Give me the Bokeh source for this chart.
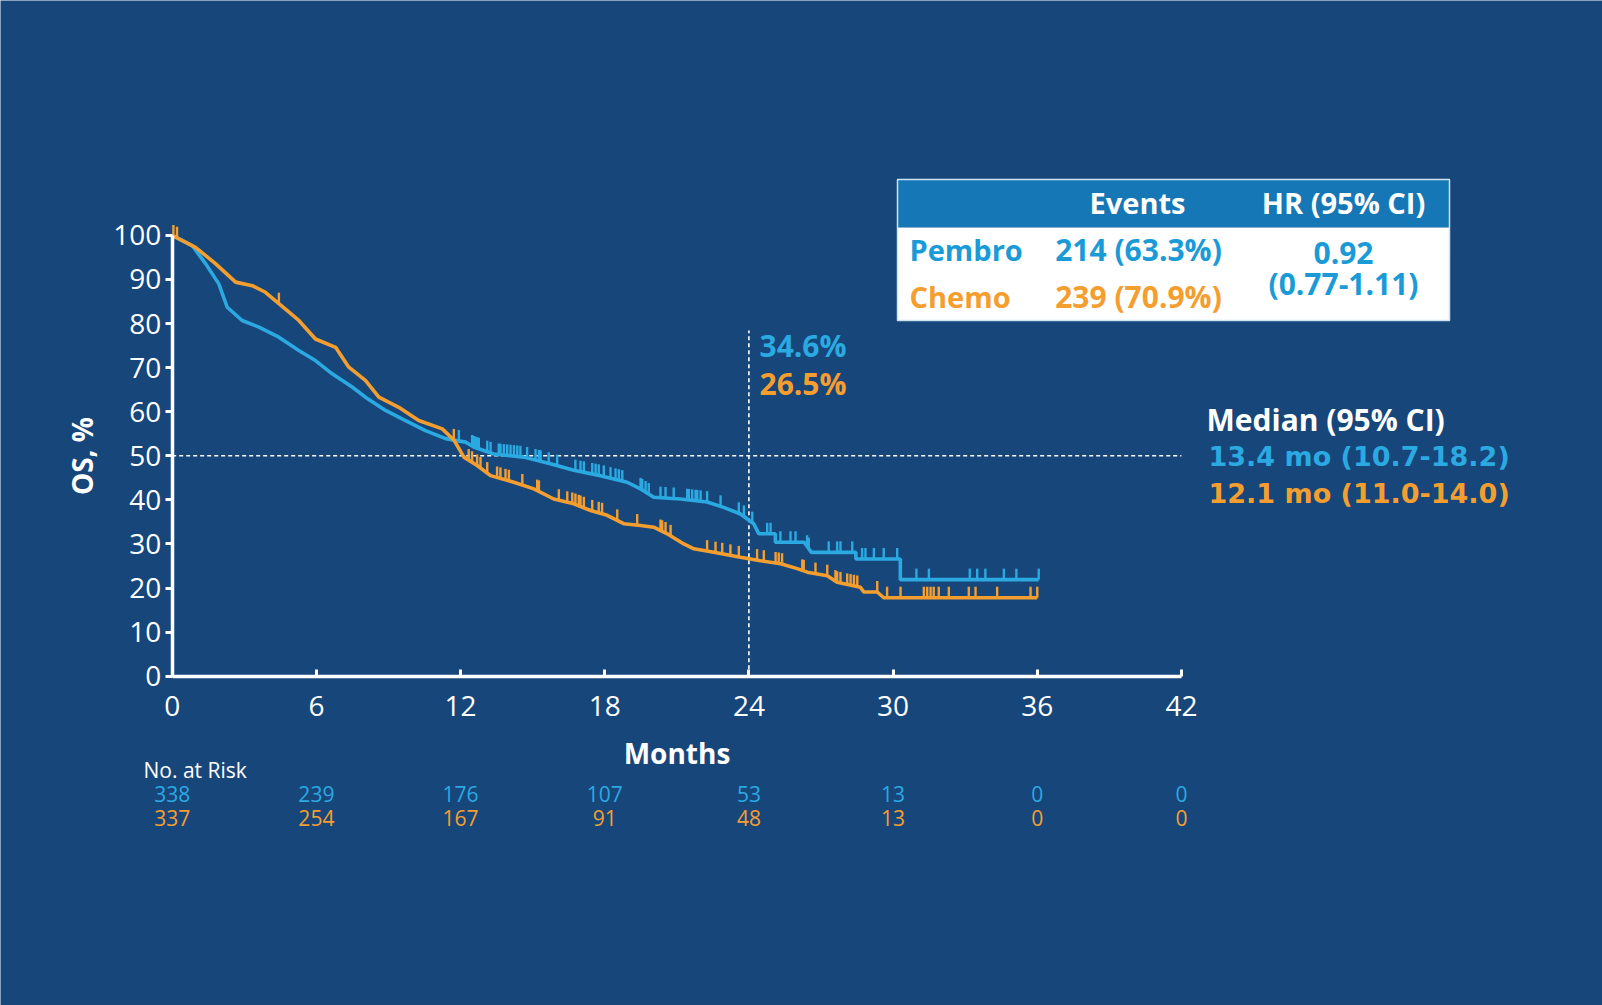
import numpy as np
from bokeh.plotting import figure
from bokeh.models import Range1d, LinearAxis, FixedTicker
from bokeh.core.properties import value
from bokeh.embed import file_html
from bokeh.resources import INLINE

# ---------------- data ----------------
month_ticks = [0, 6, 12, 18, 24, 30, 36, 42]
os_ticks = [0, 10, 20, 30, 40, 50, 60, 70, 80, 90, 100]

pembro_t = [0, 0.83, 1.39, 1.94, 2.29, 2.91, 3.61, 4.44, 5.27, 5.96, 6.66, 7.49, 8.04,
            8.88, 9.71, 10.54, 11.38, 12.21, 12.55, 13.38, 14.63, 15.74, 16.71, 17.82,
            18.93, 19.49, 20.04, 21.15, 22.26, 22.95, 23.65, 24.2, 24.41, 25.1, 25.1,
            26.3, 26.6, 28.45, 28.45, 30.3, 30.3, 36.06]
pembro_s = [100, 97.7, 93.6, 89.0, 83.7, 80.7, 79.2, 76.9, 73.9, 71.6, 68.6, 65.6, 63.3,
            60.3, 58.0, 55.7, 53.9, 53.1, 52.0, 50.4, 49.7, 48.2, 46.7, 45.5,
            44.0, 42.5, 40.6, 40.2, 39.5, 38.3, 36.8, 34.6, 32.3, 32.3, 30.4,
            30.4, 28.1, 28.1, 26.6, 26.6, 21.9, 21.9]

chemo_t = [0, 0.97, 1.80, 2.64, 3.33, 3.88, 4.44, 5.27, 5.96, 6.80, 7.35, 8.04, 8.60,
           9.43, 10.26, 11.24, 11.72, 12.14, 12.69, 13.25, 14.22, 15.05, 15.88, 16.71,
           17.41, 18.10, 18.79, 19.49, 20.04, 20.6, 21.29, 21.71, 22.54, 23.65, 24.48,
           25.32, 26.01, 26.43, 27.26, 27.67, 28.64, 28.78, 29.34, 29.61, 36.0]
chemo_s = [100, 97.3, 93.6, 89.4, 88.6, 87.1, 84.5, 80.7, 76.5, 74.6, 70.1, 67.1, 63.3,
           61.0, 58.0, 56.1, 53.6, 49.7, 47.8, 45.5, 44.0, 42.5, 40.2, 39.1,
           37.6, 36.5, 34.6, 34.2, 33.8, 32.3, 30.0, 28.9, 28.1, 27.0, 26.2,
           25.5, 24.4, 23.6, 22.8, 21.3, 20.2, 19.1, 19.1, 17.8, 17.8]

pembro_censor = [11.93, 12.48, 12.55, 12.62, 12.69, 12.76, 13.11, 13.25, 13.59, 13.66,
                 13.80, 13.94, 14.08, 14.22, 14.36, 14.49, 14.77, 15.12, 15.26, 15.33,
                 15.67, 16.02, 16.78, 16.99, 17.13, 17.48, 17.62, 17.75, 17.96, 18.24,
                 18.45, 18.59, 18.73, 19.49, 19.56, 19.70, 19.83, 20.32, 20.53, 20.87,
                 21.43, 21.50, 21.64, 21.78, 21.85, 21.99, 22.26, 22.82, 23.58, 23.79,
                 24.14, 24.76, 24.90, 25.31, 25.73, 25.94, 26.42, 26.49, 27.32, 27.67,
                 27.81, 28.30, 28.71, 28.85, 29.20, 29.61, 30.17, 30.97, 31.49, 33.19,
                 33.50, 33.84, 34.61, 35.13, 36.06]
chemo_censor = [0.05, 0.2, 4.44, 11.72, 12.34, 12.48, 12.69, 12.83, 13.11, 13.52, 13.66,
                13.87, 14.01, 14.57, 15.19, 15.26, 16.09, 16.44, 16.65, 16.78, 16.92,
                16.99, 17.13, 17.48, 17.75, 17.89, 18.52, 19.35, 20.32, 20.39, 20.53,
                20.74, 22.26, 22.61, 22.89, 23.23, 23.58, 24.34, 24.62, 25.11, 25.24,
                25.38, 26.22, 26.28, 26.77, 27.26, 27.60, 27.67, 27.81, 28.09, 28.23,
                28.37, 28.51, 29.34, 29.75, 30.31, 31.28, 31.42, 31.56, 31.69, 31.90,
                32.32, 33.15, 33.43, 34.33, 35.72, 36.0]

risk_months = [0, 6, 12, 18, 24, 30, 36, 42]
risk_pembro = [338, 239, 176, 107, 53, 13, 0, 0]
risk_chemo = [337, 254, 167, 91, 48, 13, 0, 0]

landmark_month = 24
landmark_labels = ["34.6%", "26.5%"]
median_level = 50
median_title = "Median (95% CI)"
median_values = ["13.4 mo (10.7-18.2)", "12.1 mo (11.0-14.0)"]
table_header = ["Events", "HR (95% CI)"]
table_arms = ["Pembro", "Chemo"]
table_events = ["214 (63.3%)", "239 (70.9%)"]
table_hr = ["0.92", "(0.77-1.11)"]

# ---------------- layout / style ----------------
BG = "#17467B"
BLUE = "#2BA9E1"
ORANGE = "#F59E30"
TBLUE = "#1A9BD7"
HEAD = "#1577B5"
FONT = value("Open Sans")
FONT2 = value("DejaVu Sans")

W, H = 1602, 1005
X0 = 171.7      # pixel of month 0
Y0 = 675.7      # pixel of 0 % from top
PPM = 24.03     # px per month
PPP = 4.408     # px per percent


def X(px):
    return (px - X0) / PPM


def Y(py):
    return (Y0 - py) / PPP


p = figure(width=W, height=H, x_range=Range1d(-X0 / PPM, (W - X0) / PPM),
           y_range=Range1d(-(H - Y0) / PPP, Y0 / PPP),
           x_axis_type=None, y_axis_type=None, toolbar_location=None,
           output_backend="svg", min_border=0)
p.background_fill_color = BG
p.border_fill_color = BG
p.outline_line_color = None

xaxis = LinearAxis(fixed_location=0, bounds=(0, 42), ticker=FixedTicker(ticks=month_ticks),
                   axis_label="Months")
yaxis = LinearAxis(fixed_location=0, bounds=(0, 100), ticker=FixedTicker(ticks=os_ticks),
                   axis_label="OS, %")
for ax in (xaxis, yaxis):
    ax.axis_line_color = "white"
    ax.axis_line_width = 3.5
    ax.major_tick_line_color = "white"
    ax.major_tick_line_width = 3
    ax.minor_tick_line_color = None
    ax.major_label_text_color = "white"
    ax.major_label_text_font = "Open Sans"
    ax.major_label_text_font_size = "28px"
    ax.axis_label_text_color = "white"
    ax.axis_label_text_font = "Open Sans"
    ax.axis_label_text_font_size = "28px"
    ax.axis_label_text_font_style = "bold"
xaxis.major_tick_out = 0
xaxis.major_tick_in = 7
xaxis.major_label_standoff = 20
xaxis.axis_label_standoff = 14
yaxis.major_tick_out = 7
yaxis.major_tick_in = 0
yaxis.major_label_standoff = 4
yaxis.axis_label_standoff = 9
p.add_layout(xaxis, "below")
p.add_layout(yaxis, "left")

# reference lines
p.segment(x0=[0], y0=[median_level], x1=[42], y1=[median_level], line_color="white",
          line_width=1.6, line_dash="4 3")
p.segment(x0=[landmark_month], y0=[0], x1=[landmark_month], y1=[Y(330)], line_color="white",
          line_width=1.6, line_dash="4 3")

# curves
p.line(pembro_t, pembro_s, line_color=BLUE, line_width=3.6)
p.line(chemo_t, chemo_s, line_color=ORANGE, line_width=3.6)

# censor marks
TICK = 2.5
for cens, t, s, col in ((pembro_censor, pembro_t, pembro_s, BLUE),
                        (chemo_censor, chemo_t, chemo_s, ORANGE)):
    c = np.array(cens)
    yv = np.interp(c, np.array(t), np.array(s))
    p.segment(x0=c, y0=yv, x1=c, y1=yv + TICK, line_color=col, line_width=2.4)

# landmark labels
p.text(x=[X(759)] * 2, y=[Y(345), Y(383)], text=landmark_labels,
       text_color=[BLUE, ORANGE], text_font=FONT, text_font_size="30px",
       text_font_style="bold", text_align="left", text_baseline="middle")

# median block
p.text(x=[X(1206)], y=[Y(419)], text=[median_title],
       text_color="white", text_font=FONT, text_font_size="30px",
       text_font_style="bold", text_align="left", text_baseline="middle")
p.text(x=[X(1208)] * 2, y=[Y(456), Y(493)], text=median_values,
       text_color=[BLUE, ORANGE], text_font=FONT2, text_font_size="27px",
       text_font_style="bold", text_align="left", text_baseline="middle")

# table box
p.quad(left=[X(897)], right=[X(1449)], top=[Y(179)], bottom=[Y(227)],
       fill_color=HEAD, line_color=None)
p.quad(left=[X(897)], right=[X(1449)], top=[Y(227)], bottom=[Y(320)],
       fill_color="white", line_color=None)
p.quad(left=[X(897)], right=[X(1449)], top=[Y(179)], bottom=[Y(320)],
       fill_color=None, line_color="#cfe4f3", line_width=1.5)
p.text(x=[X(1137), X(1343)], y=[Y(202), Y(202)], text=table_header,
       text_color="white", text_font=FONT, text_font_size="29px",
       text_font_style="bold", text_align="center", text_baseline="middle")
p.text(x=[X(909)] * 2, y=[Y(249), Y(296)], text=table_arms,
       text_color=[TBLUE, ORANGE], text_font=FONT, text_font_size="29px",
       text_font_style="bold", text_align="left", text_baseline="middle")
p.text(x=[X(1138)] * 2, y=[Y(249), Y(296)], text=table_events,
       text_color=[TBLUE, ORANGE], text_font=FONT, text_font_size="30px",
       text_font_style="bold", text_align="center", text_baseline="middle")
p.text(x=[X(1343)] * 2, y=[Y(252), Y(283)], text=table_hr,
       text_color=TBLUE, text_font=FONT, text_font_size="30px",
       text_font_style="bold", text_align="center", text_baseline="middle")

# number at risk
p.text(x=[X(143)], y=[Y(769)], text=["No. at Risk"], text_color="white",
       text_font=FONT, text_font_size="21px", text_align="left", text_baseline="middle")
p.text(x=risk_months, y=[Y(793)] * len(risk_months), text=[str(v) for v in risk_pembro],
       text_color=BLUE, text_font=FONT, text_font_size="21px", text_align="center",
       text_baseline="middle")
p.text(x=risk_months, y=[Y(817)] * len(risk_months), text=[str(v) for v in risk_chemo],
       text_color=ORANGE, text_font=FONT, text_font_size="21px", text_align="center",
       text_baseline="middle")

open("out.html", "w").write(file_html(p, INLINE))
